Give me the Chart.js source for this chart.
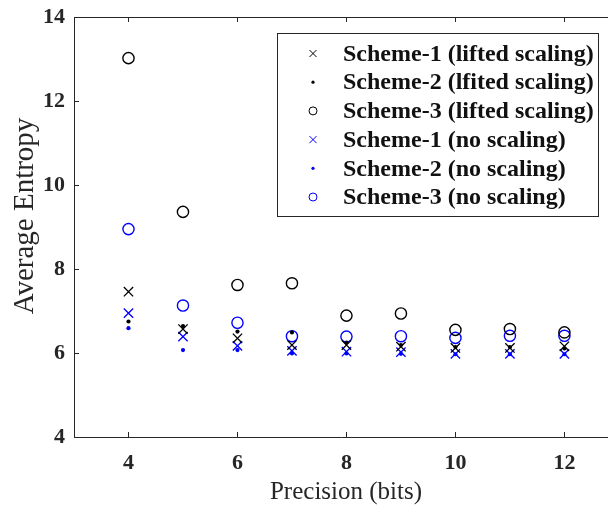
<!DOCTYPE html>
<html>
<head>
<meta charset="utf-8">
<script src="https://cdn.jsdelivr.net/npm/chart.js@4/dist/chart.umd.min.js"></script>
<style>
  html, body { margin: 0; padding: 0; background: #ffffff; }
  #wrap { width: 608px; height: 506px; position: relative; }
</style>
</head>
<body>
<div id="wrap"><canvas id="c" width="608" height="506"></canvas></div>
<script>
// ---- data ----
const precisionBits = [4, 5, 6, 7, 8, 9, 10, 11, 12];
const scheme1Lifted = [7.46, 6.57, 6.35, 6.19, 6.19, 6.15, 6.12, 6.12, 6.16];
const scheme2Lifted = [6.75, 6.64, 6.51, 6.49, 6.25, 6.19, 6.14, 6.14, 6.11];
const scheme3Lifted = [13.02, 9.36, 7.62, 7.66, 6.89, 6.94, 6.55, 6.57, 6.49];
const scheme1None = [6.95, 6.39, 6.17, 6.05, 6.03, 6.02, 5.98, 5.98, 5.98];
const scheme2None = [6.59, 6.07, 6.07, 5.99, 5.99, 5.98, 5.97, 5.97, 5.97];
const scheme3None = [8.95, 7.13, 6.72, 6.40, 6.39, 6.40, 6.36, 6.41, 6.41];
const seriesLabels = [
  'Scheme-1 (lifted scaling)',
  'Scheme-2 (lfited scaling)',
  'Scheme-3 (lifted scaling)',
  'Scheme-1 (no scaling)',
  'Scheme-2 (no scaling)',
  'Scheme-3 (no scaling)'
];
const xTickValues = [4, 6, 8, 10, 12];
const yTickValues = [4, 6, 8, 10, 12, 14];
const xAxisTitle = 'Precision (bits)';
const yAxisTitle = 'Average Entropy';

const AXIS = '#262626';
const SERIF = '"Liberation Serif", "Times New Roman", serif';

function pts(ys) { return precisionBits.map((x, i) => ({ x: x, y: ys[i] })); }

function mk(label, ys, color, kind) {
  const base = { label: label, data: pts(ys), borderColor: color, kind: kind };
  if (kind === 'x') return Object.assign(base, { pointStyle: 'crossRot', pointRadius: 6.6, borderWidth: 1.3, backgroundColor: color });
  if (kind === 'dot') return Object.assign(base, { pointStyle: 'circle', pointRadius: 2.1, borderWidth: 0, backgroundColor: color });
  return Object.assign(base, { pointStyle: 'circle', pointRadius: 5.6, borderWidth: 1.4, backgroundColor: 'rgba(0,0,0,0)' });
}

const datasets = [
  mk(seriesLabels[0], scheme1Lifted, '#000000', 'x'),
  mk(seriesLabels[1], scheme2Lifted, '#000000', 'dot'),
  mk(seriesLabels[2], scheme3Lifted, '#000000', 'o'),
  mk(seriesLabels[3], scheme1None, '#0000ff', 'x'),
  mk(seriesLabels[4], scheme2None, '#0000ff', 'dot'),
  mk(seriesLabels[5], scheme3None, '#0000ff', 'o')
];

const boxAndTicks = {
  id: 'boxAndTicks',
  afterDraw(chart) {
    const { ctx, chartArea: a, scales } = chart;
    ctx.save();
    ctx.strokeStyle = AXIS;
    ctx.lineWidth = 1;
    ctx.beginPath();
    ctx.moveTo(a.left, a.top + 0.5);
    ctx.lineTo(a.right, a.top + 0.5);
    ctx.stroke();
    const tl = 5;
    ctx.beginPath();
    xTickValues.forEach(v => {
      const x = Math.round(scales.x.getPixelForValue(v)) + 0.5;
      ctx.moveTo(x, a.bottom); ctx.lineTo(x, a.bottom - tl);
      ctx.moveTo(x, a.top); ctx.lineTo(x, a.top + tl);
    });
    yTickValues.forEach(v => {
      const y = Math.round(scales.y.getPixelForValue(v)) + 0.5;
      ctx.moveTo(a.left, y); ctx.lineTo(a.left + tl, y);
    });
    ctx.stroke();
    // axis titles
    ctx.fillStyle = AXIS;
    ctx.textAlign = 'center';
    ctx.textBaseline = 'middle';
    ctx.font = '25px ' + SERIF;
    ctx.fillText(xAxisTitle, 346, 492);
    ctx.translate(25, 216);
    ctx.rotate(-Math.PI / 2);
    ctx.font = '29px ' + SERIF;
    ctx.fillText(yAxisTitle, 0, 0);
    ctx.restore();
  }
};

const boxLegend = {
  id: 'boxLegend',
  afterDraw(chart) {
    const { ctx } = chart;
    const L = 277, T = 33, R = 599, B = 217;
    ctx.save();
    ctx.fillStyle = '#ffffff';
    ctx.fillRect(L, T, R - L, B - T);
    ctx.strokeStyle = AXIS;
    ctx.lineWidth = 1;
    ctx.strokeRect(L + 0.5, T + 0.5, R - L - 1, B - T - 1);
    const mx = 313, tx = 343, y0 = 53.5, dy = 28.7;
    chart.data.datasets.forEach((d, i) => {
      const y = y0 + i * dy;
      ctx.strokeStyle = d.borderColor;
      ctx.fillStyle = d.borderColor;
      ctx.lineWidth = 1;
      if (d.kind === 'x') {
        const s = 3.5;
        ctx.beginPath();
        ctx.moveTo(mx - s, y - s); ctx.lineTo(mx + s, y + s);
        ctx.moveTo(mx - s, y + s); ctx.lineTo(mx + s, y - s);
        ctx.stroke();
      } else if (d.kind === 'dot') {
        ctx.beginPath(); ctx.arc(mx, y, 1.6, 0, Math.PI * 2); ctx.fill();
      } else {
        ctx.beginPath(); ctx.arc(mx, y, 4, 0, Math.PI * 2); ctx.stroke();
      }
      ctx.fillStyle = '#111111';
      ctx.font = 'bold 24px ' + SERIF;
      ctx.textBaseline = 'middle';
      ctx.textAlign = 'left';
      ctx.fillText(d.label, tx, y + 1);
    });
    ctx.restore();
  }
};

new Chart(document.getElementById('c'), {
  type: 'scatter',
  data: { datasets: datasets },
  options: {
    responsive: false,
    animation: false,
    devicePixelRatio: 1,
    layout: { autoPadding: false, padding: { top: 17, right: 0, bottom: 0, left: 0 } },
    plugins: { legend: { display: false }, tooltip: { enabled: false } },
    scales: {
      x: {
        type: 'linear', min: 3, max: 12.8,
        afterBuildTicks: s => { s.ticks = xTickValues.map(v => ({ value: v })); },
        afterFit: s => { s.height = 69; s.paddingLeft = 0; s.paddingRight = 0; },
        grid: { display: false, drawTicks: false },
        border: { display: true, color: AXIS, width: 1 },
        ticks: { color: AXIS, padding: 13, font: { family: SERIF, size: 22, weight: 'bold' } }
      },
      y: {
        type: 'linear', min: 4, max: 14,
        afterBuildTicks: s => { s.ticks = yTickValues.map(v => ({ value: v })); },
        afterFit: s => { s.width = 74; s.paddingTop = 0; s.paddingBottom = 0; },
        grid: { display: false, drawTicks: false },
        border: { display: true, color: AXIS, width: 1 },
        ticks: { color: AXIS, padding: 9, font: { family: SERIF, size: 22, weight: 'bold' } }
      }
    }
  },
  plugins: [boxAndTicks, boxLegend]
});
</script>
</body>
</html>
